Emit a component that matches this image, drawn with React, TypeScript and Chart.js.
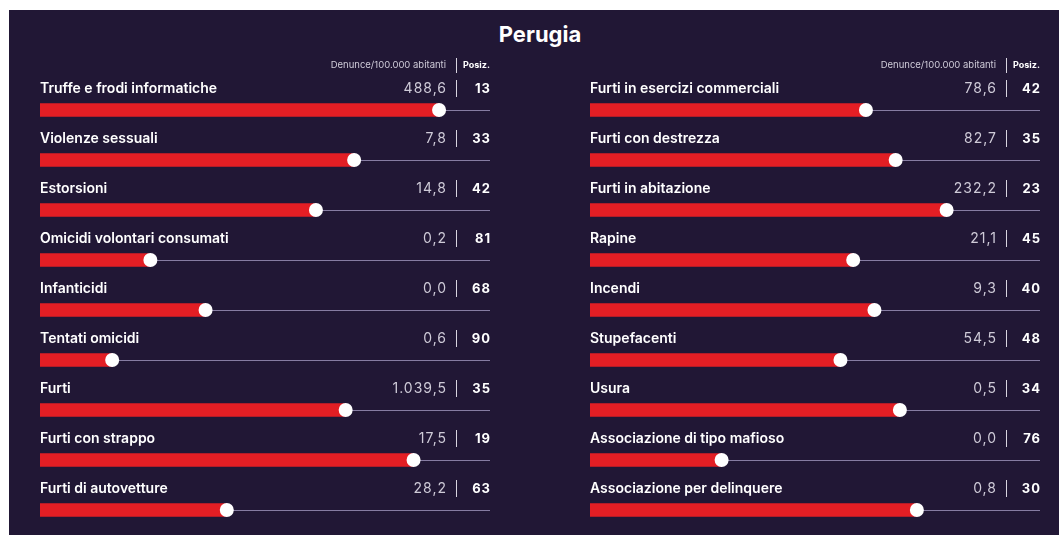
import React, { useEffect, useRef } from "react";
import { Chart, registerables } from "chart.js";

Chart.register(...registerables);

const titleText = "Perugia";
const headerRate = "Denunce/100.000 abitanti";
const headerRank = "Posiz.";

const leftCategories = [
  "Truffe e frodi informatiche",
  "Violenze sessuali",
  "Estorsioni",
  "Omicidi volontari consumati",
  "Infanticidi",
  "Tentati omicidi",
  "Furti",
  "Furti con strappo",
  "Furti di autovetture",
];
const leftRates = ["488,6", "7,8", "14,8", "0,2", "0,0", "0,6", "1.039,5", "17,5", "28,2"];
const leftRanks = [13, 33, 42, 81, 68, 90, 35, 19, 63];
const leftScores = [94, 74, 65, 26, 39, 17, 72, 88, 44];

const rightCategories = [
  "Furti in esercizi commerciali",
  "Furti con destrezza",
  "Furti in abitazione",
  "Rapine",
  "Incendi",
  "Stupefacenti",
  "Usura",
  "Associazione di tipo mafioso",
  "Associazione per delinquere",
];
const rightRates = ["78,6", "82,7", "232,2", "21,1", "9,3", "54,5", "0,5", "0,0", "0,8"];
const rightRanks = [42, 35, 23, 45, 40, 48, 34, 76, 30];
const rightScores = [65, 72, 84, 62, 67, 59, 73, 31, 77];

const scaleMin = 0;
const scaleMax = 106;

const BG = "#211735";
const RED = "#e31e24";
const TRACK = "rgba(160,150,190,0.8)";
const LABEL_COLOR = "#ffffff";
const VALUE_COLOR = "#cfcbd8";
const SEP_COLOR = "#d8d4e0";

function makeRowPlugin(rates: string[], ranks: number[]) {
  return {
    id: "rowDecor",
    beforeDatasetsDraw(chart: any) {
      const ctx = chart.ctx;
      const area = chart.chartArea;
      const meta = chart.getDatasetMeta(0);
      ctx.save();
      ctx.strokeStyle = TRACK;
      ctx.lineWidth = 1;
      meta.data.forEach((el: any) => {
        const y = Math.round(el.y) + 0.5;
        ctx.beginPath();
        ctx.moveTo(area.left, y);
        ctx.lineTo(area.right, y);
        ctx.stroke();
      });
      ctx.restore();
    },
    afterDatasetsDraw(chart: any) {
      const ctx = chart.ctx;
      const area = chart.chartArea;
      const meta = chart.getDatasetMeta(0);
      const labels = chart.data.labels as string[];
      const valueRight = area.right - 44;
      const sepX = Math.round(area.right - 34) + 0.5;
      ctx.save();
      // header
      ctx.textBaseline = "middle";
      ctx.fillStyle = VALUE_COLOR;
      ctx.font = "400 9.5px Inter";
      ctx.textAlign = "right";
      (ctx as any).letterSpacing = "0px";
      ctx.fillText(headerRate, valueRight, 55);
      ctx.fillStyle = LABEL_COLOR;
      ctx.font = "700 9px Inter";
      ctx.textAlign = "left";
      ctx.fillText(headerRank, area.right - 27, 55);
      ctx.strokeStyle = SEP_COLOR;
      ctx.lineWidth = 1;
      ctx.beginPath();
      ctx.moveTo(sepX, 48);
      ctx.lineTo(sepX, 63);
      ctx.stroke();

      meta.data.forEach((el: any, i: number) => {
        // dot
        ctx.fillStyle = "#ffffff";
        ctx.beginPath();
        ctx.arc(el.x, el.y, 7, 0, Math.PI * 2);
        ctx.fill();

        const ty = el.y - 21;
        // label
        ctx.fillStyle = LABEL_COLOR;
        ctx.font = "600 14px Inter";
        ctx.textAlign = "left";
        (ctx as any).letterSpacing = "0px";
        ctx.fillText(labels[i], area.left, ty);
        // value
        ctx.fillStyle = VALUE_COLOR;
        ctx.font = "400 14px Inter";
        ctx.textAlign = "right";
        (ctx as any).letterSpacing = "1px";
        ctx.fillText(rates[i], valueRight + 1, ty);
        // rank
        ctx.fillStyle = LABEL_COLOR;
        ctx.font = "700 13px Inter";
        ctx.textAlign = "right";
        ctx.fillText(String(ranks[i]), area.right + 1, ty);
        (ctx as any).letterSpacing = "0px";
        // separator
        ctx.strokeStyle = SEP_COLOR;
        ctx.beginPath();
        ctx.moveTo(sepX, el.y - 30);
        ctx.lineTo(sepX, el.y - 13);
        ctx.stroke();
      });
      ctx.restore();
    },
  };
}

function Column(props: {
  categories: string[];
  scores: number[];
  rates: string[];
  ranks: number[];
  left: number;
  padLeft: number;
  padRight: number;
}) {
  const ref = useRef<HTMLCanvasElement | null>(null);
  useEffect(() => {
    if (!ref.current) return;
    const chart = new Chart(ref.current, {
      type: "bar",
      data: {
        labels: props.categories,
        datasets: [
          {
            data: props.scores,
            backgroundColor: RED,
            borderWidth: 0,
            barThickness: 13,
          },
        ],
      },
      options: {
        indexAxis: "y",
        animation: false,
        responsive: false,
        maintainAspectRatio: false,
        devicePixelRatio: 1,
        layout: { padding: { left: props.padLeft, right: props.padRight, top: 75, bottom: 0 } },
        plugins: { legend: { display: false }, tooltip: { enabled: false }, title: { display: false } },
        scales: {
          x: { min: scaleMin, max: scaleMax, display: false },
          y: { display: false },
        },
      },
      plugins: [makeRowPlugin(props.rates, props.ranks)],
    } as any);
    return () => chart.destroy();
  }, []);
  return (
    <canvas
      ref={ref}
      width={525}
      height={525}
      style={{ position: "absolute", left: props.left, top: 0, width: 525, height: 525 }}
    />
  );
}

export default function App() {
  return (
    <div
      style={{
        position: "absolute",
        left: 9,
        top: 10,
        width: 1050,
        height: 525,
        background: BG,
        overflow: "hidden",
      }}
    >
      <div
        style={{
          position: "absolute",
          left: 0,
          top: 9,
          width: 1062,
          textAlign: "center",
          color: "#ffffff",
          font: "700 22px Inter",
          lineHeight: "30px",
        }}
      >
        {titleText}
      </div>
      <Column
        categories={leftCategories}
        scores={leftScores}
        rates={leftRates}
        ranks={leftRanks}
        left={0}
        padLeft={31}
        padRight={44}
      />
      <Column
        categories={rightCategories}
        scores={rightScores}
        rates={rightRates}
        ranks={rightRanks}
        left={525}
        padLeft={56}
        padRight={19}
      />
    </div>
  );
}
